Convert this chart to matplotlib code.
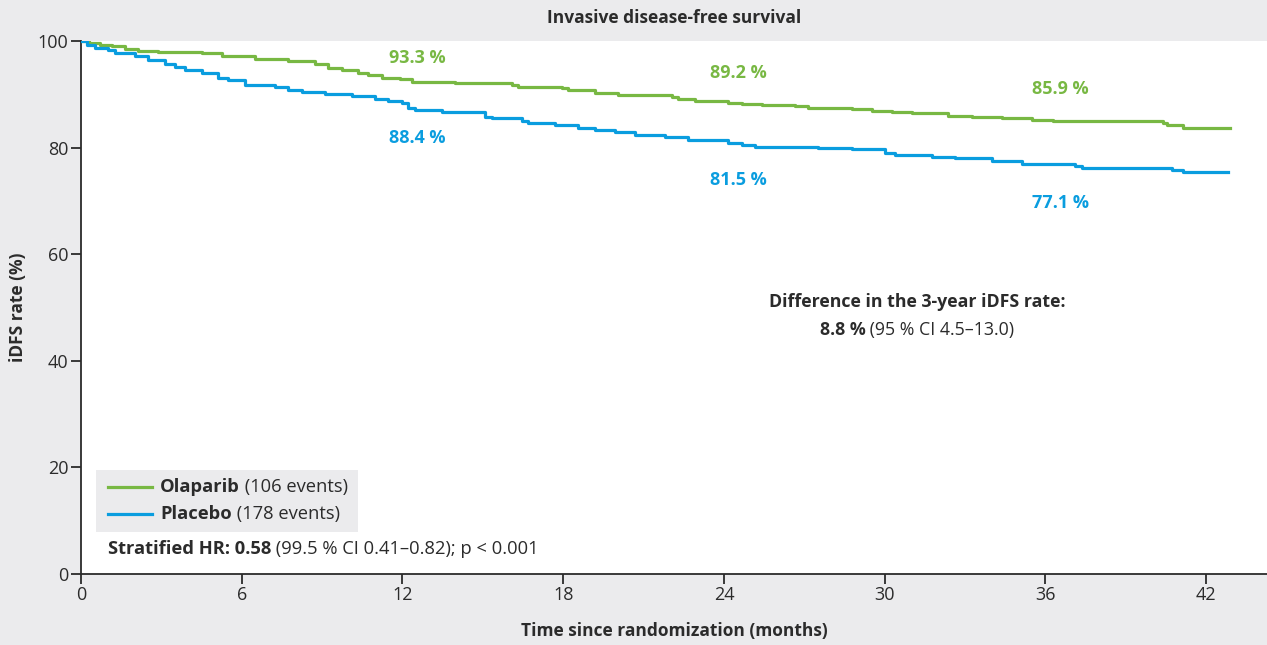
import matplotlib
matplotlib.use("Agg")
import matplotlib.pyplot as plt

plt.rcParams['font.family'] = ['Open Sans', 'DejaVu Sans']

# Kaplan-Meier step points (months, % event-free)
olaparib_t = [0, 0.3, 0.7, 1.15, 1.64, 2.13, 2.87, 4.52, 5.26, 6.50, 7.73, 8.73,
              9.22, 9.74, 10.34, 10.71, 11.24, 11.9, 12.36, 13.96, 16.09, 16.31,
              17.95, 18.18, 19.19, 20.04, 22.06, 22.28, 22.92, 24.15, 24.67, 25.42,
              26.65, 27.14, 28.78, 29.53, 30.27, 31.02, 32.36, 33.26, 34.38, 35.5,
              36.28, 40.39, 40.54, 41.13, 42.89]
olaparib_s = [100, 99.6, 99.3, 99.0, 98.5, 98.2, 97.9, 97.7, 97.1, 96.7, 96.2, 95.6,
              94.9, 94.5, 94.0, 93.6, 93.1, 92.8, 92.4, 92.1, 91.7, 91.4,
              91.1, 90.8, 90.3, 89.9, 89.5, 89.2, 88.8, 88.3, 88.1, 88.0,
              87.8, 87.4, 87.2, 86.9, 86.7, 86.4, 86.0, 85.8, 85.5, 85.2,
              84.9, 84.6, 84.2, 83.7, 83.7]

placebo_t = [0, 0.21, 0.52, 1.01, 1.27, 2.02, 2.50, 3.14, 3.51, 3.88, 4.52, 5.11,
             5.49, 6.12, 7.24, 7.73, 8.25, 9.11, 10.12, 10.97, 11.46, 11.98, 12.21,
             12.47, 13.48, 15.08, 15.34, 16.46, 16.69, 17.69, 18.55, 19.19, 19.93,
             20.68, 21.80, 22.66, 24.15, 24.67, 25.16, 27.51, 28.78, 30.01, 30.38,
             31.77, 32.62, 34.00, 35.13, 37.1, 37.36, 40.72, 41.13, 42.81]
placebo_s = [100, 99.2, 98.7, 98.4, 97.7, 97.1, 96.5, 95.6, 95.1, 94.6, 94.0, 93.1,
             92.6, 91.8, 91.3, 90.9, 90.4, 90.1, 89.6, 89.2, 88.7, 88.3, 87.4,
             87.1, 86.6, 85.8, 85.5, 85.0, 84.7, 84.2, 83.6, 83.3, 82.9,
             82.4, 81.9, 81.4, 80.8, 80.5, 80.2, 80.0, 79.7, 78.9, 78.7,
             78.3, 78.0, 77.5, 76.9, 76.6, 76.1, 75.8, 75.5, 75.5]

# Landmark rates at 1, 2, 3 years
landmark_t = [12, 24, 36]
olaparib_rates = [93.3, 89.2, 85.9]
placebo_rates = [88.4, 81.5, 77.1]

green = '#78b843'
blue = '#0a9ddf'
bg = '#ebebed'
dark = '#2b2b2b'

fig = plt.figure(figsize=(12.67, 6.45), dpi=100, facecolor=bg)
ax = fig.add_axes([81 / 1267, 71 / 645, 1 - 81 / 1267, 533 / 645])
ax.set_facecolor('white')

ax.step(olaparib_t, olaparib_s, where='post', color=green, lw=2.3, zorder=3)
ax.step(placebo_t, placebo_s, where='post', color=blue, lw=2.3, zorder=3)

ax.set_xlim(0, 44.27)
ax.set_ylim(0, 100)
ax.set_xticks(range(0, 43, 6))
ax.set_yticks(range(0, 101, 20))
for s in ['top', 'right']:
    ax.spines[s].set_visible(False)
for s in ['left', 'bottom']:
    ax.spines[s].set_color(dark)
    ax.spines[s].set_linewidth(1.3)
ax.tick_params(direction='out', length=7, width=1.3, color=dark,
               labelsize=13, labelcolor=dark, pad=2)

# axis titles and chart title placed in figure pixels
fig.text(674 / 1267, 1 - 631 / 645, 'Time since randomization (months)',
         ha='center', va='center', fontsize=12.5, fontweight='bold', color=dark)
fig.text(18 / 1267, 1 - 307 / 645, 'iDFS rate (%)', rotation=90,
         ha='center', va='center', fontsize=12.5, fontweight='bold', color=dark)
fig.text(674 / 1267, 1 - 18 / 645, 'Invasive disease-free survival',
         ha='center', va='center', fontsize=12.5, fontweight='bold', color=dark)

# landmark labels (vertical offsets from the reference layout)
green_dy = [3.5, 4.8, 5.1]
blue_dy = [-6.6, -7.6, -7.5]
for t, g, b, dg, db in zip(landmark_t, olaparib_rates, placebo_rates, green_dy, blue_dy):
    ax.text(t + 0.55, g + dg, f'{g:.1f} %', color=green, fontsize=13,
            fontweight='bold', ha='center', va='center')
    ax.text(t + 0.55, b + db, f'{b:.1f} %', color=blue, fontsize=13,
            fontweight='bold', ha='center', va='center')


def mixed(x, y, parts, size=13, ha='left'):
    """Draw a run of (text, weight) pieces side by side in axes coords."""
    first = ax.text(x, y, parts[0][0], transform=ax.transAxes, fontsize=size,
                    fontweight=parts[0][1], color=dark, ha='left', va='center')
    prev = first
    arts = [first]
    for txt, w in parts[1:]:
        prev = ax.annotate(txt, xy=(1, 0), xycoords=prev, fontsize=size,
                           fontweight=w, color=dark, ha='left', va='bottom')
        arts.append(prev)
    if ha == 'center':
        fig.canvas.draw()
        r = fig.canvas.get_renderer()
        x0 = arts[0].get_window_extent(r).x0
        x1 = arts[-1].get_window_extent(r).x1
        shift = (x1 - x0) / 2 / ax.get_window_extent(r).width
        first.set_x(x - shift)


# difference annotation
cx = (917 - 81) / (1267 - 81)
ax.text(cx, (574 - 302) / 533, 'Difference in the 3-year iDFS rate:',
        transform=ax.transAxes, fontsize=12.8, fontweight='bold',
        color=dark, ha='center', va='center')
mixed(cx, (574 - 330) / 533, [('8.8 %', 'bold'), (' (95 % CI 4.5–13.0)', 'normal')],
      size=12.8, ha='center')

# legend box
leg_x0, leg_x1 = (96 - 81) / 1186, (358 - 81) / 1186
leg_y0, leg_y1 = (574 - 532) / 533, (574 - 470) / 533
ax.add_patch(plt.Rectangle((leg_x0, leg_y0), leg_x1 - leg_x0, leg_y1 - leg_y0,
                           transform=ax.transAxes, facecolor=bg, edgecolor='none',
                           zorder=1))
lx0, lx1 = (108 - 81) / 1186, (152 - 81) / 1186
ty = (574 - 487) / 533
by = (574 - 514) / 533
ax.plot([lx0, lx1], [ty, ty], transform=ax.transAxes, color=green, lw=2.3)
ax.plot([lx0, lx1], [by, by], transform=ax.transAxes, color=blue, lw=2.3)
tx = (160 - 81) / 1186
mixed(tx, ty, [('Olaparib', 'bold'), (' (106 events)', 'normal')], size=13.2)
mixed(tx, by, [('Placebo', 'bold'), (' (178 events)', 'normal')], size=13.2)
mixed(lx0, (574 - 549) / 533, [('Stratified HR: 0.58', 'bold'),
                               (' (99.5 % CI 0.41–0.82); p < 0.001', 'normal')],
      size=13.2)

fig.savefig('out.png', dpi=100, facecolor=bg)
